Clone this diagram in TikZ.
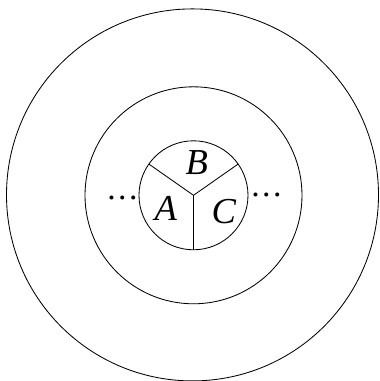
\documentclass[tikz,border=0pt]{standalone}
\usepackage{fontspec}
\setmainfont{Liberation Serif}
\usepackage{tikz}
\usetikzlibrary{positioning}

\begin{document}
\begin{tikzpicture}[
    ring/.style={draw, circle, line width=0.6pt, inner sep=0pt, outer sep=0pt},
    part/.style={font=\fontsize{26}{30}\selectfont\itshape},
    more/.style={font=\fontsize{24}{28}\selectfont, inner sep=0pt}
]
\useasboundingbox (-4.8375,-4.6425) rectangle (4.6625,4.8825);

% Rings
\coordinate (O) at (0,0);
\node[ring, minimum size=9.3cm] (outer) at (-0.025,0.01) {};
\node[ring, minimum size=5.425cm] (middle) at (O) {};
\node[ring, minimum size=2.725cm] (inner) at (O) {};

% Split of the inner ring
\draw[line width=0.6pt] (O) -- (inner.145);
\draw[line width=0.6pt] (O) -- (inner.35);
\draw[line width=0.6pt] (O) -- (inner.270);

% Labels
\node[part] (B) at (0.08,0.81) {B};
\node[part] (A) at (-0.695,-0.32) {A};
\node[part] (C) at (0.76,-0.41) {C};
\node[more] (dotsL) at (-1.775,-0.06) {.\hspace{1.8pt}.\hspace{1.8pt}.};
\node[more] (dotsR) at (1.825,0.02) {.\hspace{1.8pt}.\hspace{1.8pt}.};

\end{tikzpicture}
\end{document}
